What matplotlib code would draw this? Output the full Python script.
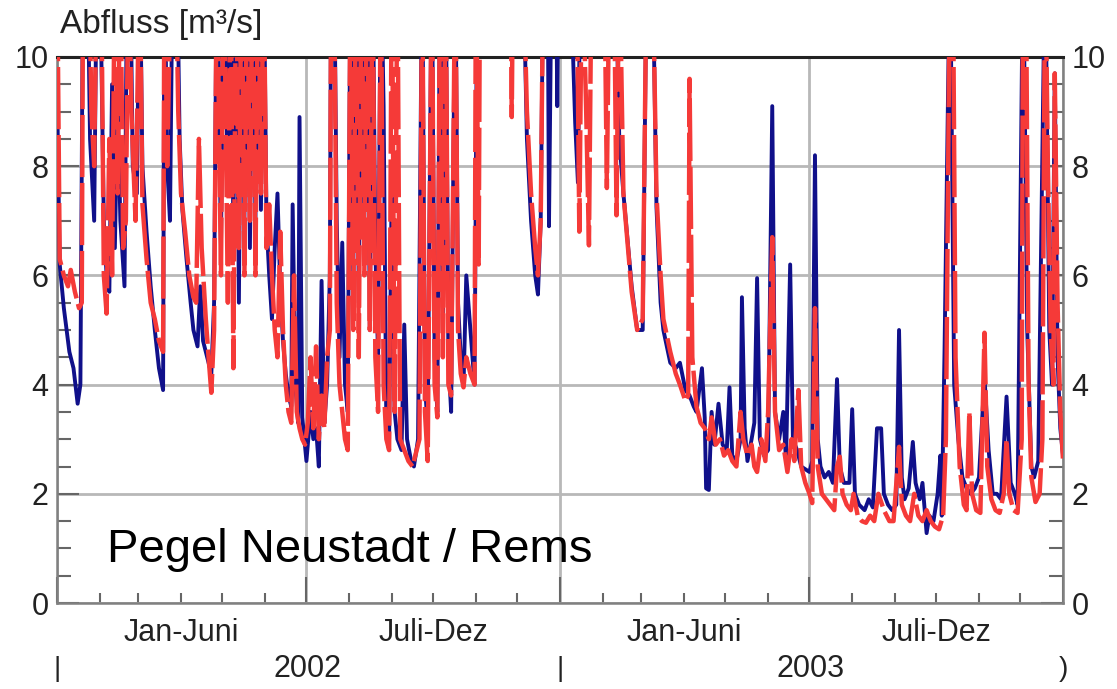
import numpy as np
import pandas as pd
import matplotlib
matplotlib.use("Agg")
import matplotlib.pyplot as plt
import matplotlib.dates as mdates
import matplotlib.transforms as mtransforms

plt.rcParams['font.family'] = ['Liberation Sans', 'DejaVu Sans']

start = pd.Timestamp("2002-01-01")

# Beobachteter Abfluss (Tage ab 01.01.2002, m3/s); Werte > 10 laufen oben aus dem Bild
obs_days = [0, 2, 5, 9, 12, 15, 17, 19, 22, 24, 27, 29, 31, 34, 36, 38, 40, 42, 44, 46,
            49, 51, 53, 55, 58, 60, 62, 65, 68, 71, 74, 77, 78, 80, 82, 84, 87, 89, 91, 94,
            97, 99, 102, 104, 106, 109, 112, 114, 116, 119, 121, 124, 126, 128, 130, 132, 134, 136, 138, 140,
            142, 144, 146, 148, 150, 152, 154, 156, 158, 160, 162, 164, 166, 168, 170, 171, 173, 175, 176, 178,
            181, 184, 186, 188, 190, 192, 194, 196, 198, 199, 201, 203, 205, 207, 209, 211, 213, 215, 217, 219,
            221, 223, 225, 227, 229, 231, 233, 235, 237, 239, 241, 243, 245, 247, 250, 252, 254, 257, 259, 262,
            265, 267, 269, 272, 274, 276, 278, 280, 282, 284, 286, 289, 291, 293, 295, 297, 300, 303, 305, 330,
            338, 341, 344, 347, 349, 351, 353, 356, 357, 359, 362, 363, 364, 372, 376, 378, 380, 405, 408, 411,
            414, 417, 421, 425, 428, 432, 435, 438, 440, 445, 449, 452, 456, 459, 462, 464, 468, 470, 471, 473,
            475, 477, 480, 483, 486, 488, 490, 493, 496, 497, 499, 501, 504, 506, 508, 510, 513, 516, 519, 521,
            524, 527, 529, 532, 534, 537, 540, 543, 546, 548, 550, 552, 554, 557, 560, 563, 566, 568, 571, 575,
            577, 579, 582, 586, 589, 592, 595, 598, 600, 603, 606, 609, 611, 613, 615, 618, 621, 623, 626, 628,
            631, 633, 636, 639, 641, 642, 644, 648, 651, 654, 657, 660, 663, 666, 669, 673, 676, 679, 682, 685,
            689, 692, 695, 697, 701, 704, 707, 709, 712, 717, 720, 722, 724, 726, 728, 730]
obs_q = [9.5, 6.2, 5.4, 4.6, 4.3, 3.65, 4.0, 12, 12, 8.5, 7.0, 12, 12, 7.0, 6.0, 5.7, 9.5, 6.5, 9.2, 7.0,
         5.8, 12, 12, 8.0, 7.5, 12, 8.0, 6.8, 5.8, 5.0, 4.3, 3.9, 12, 8.0, 7.0, 12, 12, 8.5, 7.2, 6.3,
         5.5, 5.0, 4.7, 5.8, 4.8, 4.5, 4.2, 5.5, 12, 6.5, 12, 7.5, 12, 6.8, 12, 5.5, 12, 7.0, 12, 6.5,
         12, 7.0, 12, 7.2, 12, 7.0, 6.0, 5.2, 6.5, 7.5, 5.8, 4.8, 4.2, 3.8, 3.6, 7.3, 4.0, 3.3, 8.9, 3.4,
         2.6, 3.5, 3.0, 3.2, 2.5, 5.9, 3.3, 4.0, 6.0, 12, 12, 7.0, 4.5, 6.6, 4.0, 3.5, 12, 6.0, 12, 5.5,
         12, 7.0, 12, 5.0, 12, 6.5, 4.5, 12, 9.1, 3.2, 3.0, 8.0, 3.5, 3.0, 2.8, 5.1, 3.0, 2.6, 2.5, 3.0,
         12, 4.0, 3.2, 12, 4.5, 3.5, 12, 5.0, 12, 4.5, 3.5, 12, 5.5, 4.5, 4.0, 6.0, 5.0, 4.0, 12, 12,
         12, 8.5, 7.0, 6.0, 5.65, 7.0, 12, 12, 6.9, 12, 12, 9.1, 12, 12, 8.8, 7.7, 12, 12, 8.5, 7.5,
         6.65, 5.8, 5.0, 5.0, 12, 12, 7.25, 5.5, 5.0, 4.4, 4.3, 4.4, 3.9, 3.8, 3.6, 3.5, 4.3, 3.4, 2.1, 2.07,
         3.5, 2.9, 3.65, 2.9, 2.8, 3.95, 2.7, 2.6, 3.0, 5.6, 3.2, 2.6, 3.0, 3.3, 5.95, 3.0, 2.7, 2.8, 9.1, 3.5,
         3.0, 3.5, 2.6, 6.2, 3.0, 2.8, 2.5, 2.45, 2.4, 2.6, 8.2, 3.0, 2.5, 2.3, 2.4, 2.2, 4.1, 2.5, 2.2, 2.2,
         3.55, 2.0, 1.8, 1.7, 1.9, 1.75, 3.2, 3.2, 2.0, 1.8, 1.7, 1.8, 5.0, 2.3, 1.9, 2.1, 2.95, 2.2, 1.9, 2.2,
         1.28, 1.6, 1.5, 2.0, 2.7, 1.6, 4.6, 12, 4.0, 3.0, 2.3, 2.1, 2.0, 2.1, 2.3, 4.14, 2.8, 2.0, 2.0, 1.9,
         3.78, 2.2, 2.0, 1.8, 12, 5.0, 2.5, 2.3, 2.6, 12, 5.0, 4.0, 9.7, 4.5, 3.2, 2.7]

# Simulierter Abfluss
sim_days = [0, 2, 5, 8, 10, 13, 16, 18, 19, 23, 25, 27, 29, 32, 34, 36, 38, 40, 42, 44,
            46, 48, 50, 52, 54, 57, 60, 62, 65, 68, 71, 74, 77, 78, 80, 83, 86, 88, 90, 93,
            96, 99, 101, 103, 105, 108, 110, 112, 114, 116, 119, 121, 124, 126, 128, 130, 132, 134, 136, 138,
            140, 142, 144, 146, 148, 150, 152, 154, 156, 158, 160, 162, 164, 166, 168, 170, 172, 174, 176, 178,
            180, 182, 184, 186, 188, 190, 192, 194, 196, 198, 199, 201, 203, 205, 207, 209, 211, 213, 215, 217,
            219, 221, 223, 225, 227, 229, 231, 233, 235, 237, 239, 241, 243, 245, 247, 249, 252, 255, 258, 261,
            263, 265, 267, 269, 272, 274, 276, 278, 280, 282, 284, 286, 289, 291, 293, 295, 297, 300, 303, 304,
            306, 307, 329, 330, 331, 338, 341, 344, 347, 349, 351, 353, 377, 379, 381, 384, 386, 388, 397, 399,
            401, 404, 406, 408, 411, 414, 417, 421, 425, 428, 432, 435, 438, 440, 445, 449, 452, 456, 458, 459,
            461, 464, 467, 470, 473, 475, 478, 481, 484, 487, 490, 493, 496, 498, 501, 504, 506, 508, 511, 514,
            516, 519, 521, 524, 527, 530, 533, 535, 538, 540, 543, 546, 548, 550, 552, 555, 558, 561, 564, 566,
            568, 570, 573, 576, 578, 581, 584, 587, 590, 593, 596, 600, 604, 607, 611, 613, 616, 619, 622, 625,
            628, 631, 634, 637, 640, 643, 645, 648, 650, 652, 655, 658, 660, 662, 664, 667, 670, 673, 675, 678,
            681, 684, 687, 689, 691, 694, 697, 700, 701, 703, 705, 707, 710, 713, 715, 717, 719, 721, 723, 724,
            726, 728, 730]
sim_q = [12, 6.3, 6.0, 5.8, 6.1, 5.7, 5.4, 5.5, 12, 12, 9.0, 8.0, 12, 12, 6.0, 5.3, 8.5, 6.0, 12, 7.5,
         12, 6.5, 7.0, 12, 9.0, 7.0, 12, 7.3, 6.3, 5.5, 5.2, 4.8, 4.6, 12, 8.0, 12, 12, 9.0, 7.5, 6.8,
         6.0, 5.6, 5.5, 8.5, 6.5, 5.2, 4.5, 3.85, 5.0, 12, 6.0, 12, 5.5, 12, 4.3, 12, 6.5, 12, 6.0, 12,
         7.0, 12, 6.0, 12, 7.5, 12, 6.5, 7.3, 6.0, 5.0, 4.5, 6.8, 5.0, 4.0, 3.5, 3.3, 6.0, 3.5, 3.2, 3.0,
         2.9, 3.3, 4.5, 3.2, 4.7, 3.0, 3.8, 3.2, 4.5, 5.0, 12, 12, 5.5, 4.0, 3.5, 3.0, 2.8, 12, 5.0, 12,
         4.5, 12, 6.0, 12, 5.0, 12, 4.5, 3.5, 12, 4.0, 3.0, 2.8, 12, 3.5, 12, 3.0, 2.8, 2.6, 2.5, 2.8,
         3.0, 12, 3.5, 2.6, 12, 4.0, 3.4, 12, 4.5, 12, 4.0, 3.8, 12, 5.0, 4.2, 3.95, 4.5, 4.2, 4.0, 12,
         6.2, 12, 12, 8.9, 12, 12, 9.0, 7.5, 6.5, 6.0, 7.0, 12, 12, 6.8, 12, 9.0, 6.55, 12, 12, 7.6,
         12, 12, 7.1, 12, 7.5, 6.6, 5.7, 5.0, 5.2, 12, 12, 7.5, 6.0, 5.2, 4.6, 4.2, 4.0, 3.7, 3.8, 9.6,
         4.5, 3.6, 3.3, 3.2, 3.0, 3.4, 2.9, 3.0, 2.7, 2.8, 2.6, 2.5, 3.5, 3.0, 2.7, 2.9, 2.5, 2.4, 3.0, 2.6,
         3.5, 6.7, 3.5, 2.8, 2.9, 2.4, 3.0, 2.6, 3.9, 2.5, 2.2, 2.0, 1.83, 5.4, 2.5, 2.0, 1.9, 1.8, 1.7, 2.5,
         2.68, 2.0, 1.8, 1.7, 2.0, 1.6, 1.5, 1.47, 1.6, 1.5, 2.0, 1.7, 1.5, 1.5, 2.86, 1.8, 1.6, 1.5, 2.0, 1.6,
         1.5, 1.7, 1.5, 1.4, 1.35, 1.6, 3.0, 12, 12, 4.5, 2.5, 1.8, 1.7, 3.5, 2.0, 1.7, 1.65, 4.95, 2.5, 1.9,
         1.7, 1.65, 2.0, 3.0, 2.0, 1.7, 1.65, 3.0, 12, 12, 4.0, 2.3, 1.85, 2.0, 3.0, 12, 8.0, 5.0, 4.0, 9.7,
         5.5, 3.5, 2.6]

half_labels = ["Jan-Juni", "Juli-Dez", "Jan-Juni", "Juli-Dez"]
half_pos = ["2002-04-01", "2002-10-01", "2003-04-01", "2003-10-01"]
years = ["2002", "2003"]
year_pos = ["2002-07-02", "2003-07-02"]

obs_t = start + pd.to_timedelta(obs_days, unit="D")
sim_t = start + pd.to_timedelta(sim_days, unit="D")

fig = plt.figure(figsize=(11.17, 6.89), dpi=100)
ax = fig.add_axes([0.051, 0.1248, 0.9007, 0.7925])

ax.plot(obs_t, obs_q, color="#10108a", lw=2.8, zorder=3)
ax.plot(sim_t, sim_q, color="#f53a38", lw=3.2, ls=(0, (14, 1.3)), zorder=4)

ax.set_xlim(pd.Timestamp("2002-01-01"), pd.Timestamp("2004-01-01"))
ax.set_ylim(0, 10)

ax.xaxis.set_major_locator(mdates.MonthLocator(bymonth=[1, 7]))
ax.xaxis.set_minor_locator(mdates.MonthLocator())
ax.xaxis.set_major_formatter(plt.NullFormatter())
ax.set_yticks(np.arange(0, 11, 2))
ax.set_yticks(np.arange(0, 10.01, 0.5), minor=True)

ax.grid(True, which="major", color="#b8b8b8", lw=2.0, zorder=1)

ax.tick_params(axis="x", which="major", direction="in", length=19, width=1.5, color="#666")
ax.tick_params(axis="x", which="minor", direction="in", length=7, width=1.5, color="#666")
ax.tick_params(axis="y", which="major", direction="in", length=16, width=1.5, color="#666",
               left=True, right=True, labelleft=True, labelright=True,
               labelsize=22, labelcolor="#222", pad=6)
ax.tick_params(axis="y", which="minor", direction="in", length=10, width=1.5, color="#666",
               left=True, right=True)

for side in ["left", "bottom", "right"]:
    ax.spines[side].set_color("#808080")
    ax.spines[side].set_linewidth(1.8)
ax.spines["top"].set_color("#222")
ax.spines["top"].set_linewidth(2.2)

trans = mtransforms.blended_transform_factory(ax.transData, ax.transAxes)
for lab, pos in zip(half_labels, half_pos):
    ax.text(pd.Timestamp(pos), -0.055, lab, transform=trans, ha="center", va="center",
            fontsize=22, color="#222")
for lab, pos in zip(years, year_pos):
    ax.text(pd.Timestamp(pos), -0.12, lab, transform=trans, ha="center", va="center",
            fontsize=22, color="#222")
for pos, mark in [("2002-01-01", "|"), ("2003-01-01", "|"), ("2004-01-01", ")")]:
    ax.text(pd.Timestamp(pos), -0.12, mark, transform=trans, ha="center", va="center",
            fontsize=20, color="#222")

fig.text(60 / 1117, 1 - 25 / 689, "Abfluss [m³/s]", ha="left", va="center", fontsize=24, color="#222")
ax.text(pd.Timestamp("2002-02-06"), 0.076, "Pegel Neustadt / Rems", transform=trans,
        ha="left", va="baseline", fontsize=34, color="black", zorder=6)

fig.savefig("out.png", dpi=100)
